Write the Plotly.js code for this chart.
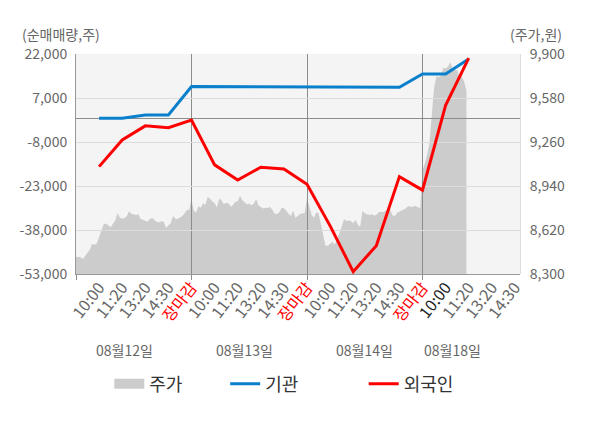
<!DOCTYPE html>
<html>
<head>
<meta charset="utf-8">
<script src="https://cdn.plot.ly/plotly-3.0.1.min.js"></script>
<style>
  html, body { margin: 0; padding: 0; background: #fff; }
  #chart { width: 600px; height: 428px; }
</style>
</head>
<body>
<div id="chart"></div>
<script>
// 거래일, 시간 구간 라벨
var dayLabels = ['08월12일', '08월13일', '08월14일', '08월18일'];
var slotLabels = ['10:00', '11:20', '13:20', '14:30', '장마감'];
var liveDaySlots = 4; // 마지막 날은 장중 (14:30 까지만 눈금)

// 주가 (원), 하루 50개 샘플
var priceDay1 = [8426, 8424, 8421, 8409, 8430, 8450, 8478, 8520, 8512, 8521,
                 8563, 8612, 8661, 8668, 8651, 8640, 8665, 8689, 8744, 8710,
                 8701, 8707, 8720, 8757, 8739, 8733, 8729, 8735, 8700, 8695,
                 8685, 8680, 8700, 8708, 8692, 8678, 8676, 8684, 8680, 8635,
                 8654, 8670, 8722, 8702, 8700, 8712, 8721, 8740, 8765, 8768];
var priceDay2 = [8845, 8760, 8748, 8793, 8782, 8814, 8802, 8860, 8850, 8830,
                 8815, 8785, 8850, 8835, 8809, 8816, 8815, 8790, 8803, 8826,
                 8830, 8870, 8836, 8822, 8805, 8812, 8800, 8813, 8843, 8798,
                 8790, 8777, 8781, 8780, 8788, 8768, 8739, 8736, 8750, 8782,
                 8778, 8762, 8738, 8721, 8760, 8710, 8722, 8737, 8741, 8741];
var priceDay3 = [8855, 8800, 8730, 8710, 8750, 8741, 8660, 8580, 8508, 8505,
                 8523, 8535, 8513, 8550, 8595, 8644, 8700, 8685, 8690, 8685,
                 8669, 8695, 8660, 8642, 8760, 8741, 8735, 8730, 8734, 8726,
                 8730, 8750, 8752, 8751, 8760, 8768, 8770, 8728, 8720, 8745,
                 8756, 8762, 8770, 8780, 8795, 8788, 8792, 8794, 8786, 8778];
var priceDay4 = [9058, 9100, 9166, 9250, 9455, 9652, 9736, 9732, 9740, 9800,
                 9795, 9808, 9840, 9798, 9786, 9782, 9730, 9734, 9700, 9635];
var samplesPerDay = 50;

// 순매매량 (주), 눈금 시점마다
var institution = [100, 100, 1200, 1200, 10900, 10900, 10900, 10850, 10850,
                   10650, 10650, 10650, 10650, 10650, 15200, 15200, 20300];
var foreigner = [-16400, -7300, -2500, -3100, -500, -15800, -20950, -16600, -17200,
                 -22400, -36600, -52200, -43350, -19800, -24400, 4500, 20600];

var netTicks = [22000, 7000, -8000, -23000, -38000, -53000];
var priceTicks = [9900, 9580, 9260, 8940, 8620, 8300];

var slotsPerDay = slotLabels.length;
var font = 'Noto Sans CJK KR, Noto Sans, sans-serif';

// x 좌표: 하루 = 5칸
var priceX = [], priceY = [];
[priceDay1, priceDay2, priceDay3, priceDay4].forEach(function (arr, d) {
    arr.forEach(function (v, i) {
        priceX.push(d * slotsPerDay + i * slotsPerDay / samplesPerDay);
        priceY.push(v);
    });
});

var tickVals = [], tickText = [];
dayLabels.forEach(function (day, d) {
    var n = d === dayLabels.length - 1 ? liveDaySlots : slotsPerDay;
    for (var s = 0; s < n; s++) {
        var t = slotLabels[s];
        if (t === '장마감') t = '<span style="color:#ff0000">' + t + '</span>';
        else if (d === dayLabels.length - 1 && s === 0) t = '<span style="color:#222">' + t + '</span>';
        tickVals.push(d * slotsPerDay + s + 1);
        tickText.push(t);
    }
});

var lineX = institution.map(function (v, i) { return i + 1; });
var fmt = function (v) { return v.toLocaleString('en-US'); };

var data = [
    {
        type: 'scatter', mode: 'lines', x: priceX, y: priceY,
        xaxis: 'x', yaxis: 'y',
        fill: 'tozeroy', fillcolor: '#cccccc',
        line: { width: 0, color: '#cccccc' },
        showlegend: false, hoverinfo: 'skip'
    },
    {
        type: 'scatter', mode: 'lines', x: [null], y: [null],
        xaxis: 'x', yaxis: 'y', name: '주가',
        line: { width: 14, color: '#cccccc' }, legend: 'legend'
    },
    {
        type: 'scatter', mode: 'lines', x: lineX, y: institution,
        xaxis: 'x2', yaxis: 'y2', name: '기관',
        line: { width: 3, color: '#0a80cc' }, legend: 'legend2'
    },
    {
        type: 'scatter', mode: 'lines', x: lineX, y: foreigner,
        xaxis: 'x2', yaxis: 'y2', name: '외국인',
        line: { width: 3, color: '#ff0000' }, legend: 'legend3'
    }
];

var xRange = [0, 19.22];
var legendBase = {
    orientation: 'h', yanchor: 'middle', xanchor: 'left', y: -0.5,
    font: { family: font, size: 18, color: '#333' }, bgcolor: 'rgba(0,0,0,0)'
};

var layout = {
    width: 600, height: 428,
    margin: { l: 76, r: 80, t: 54, b: 154 },
    paper_bgcolor: '#ffffff',
    plot_bgcolor: 'rgba(0,0,0,0)',
    font: { family: font, size: 14, color: '#666' },
    xaxis: {
        domain: [0, 1], anchor: 'y', range: xRange, fixedrange: true,
        tickvals: tickVals, ticktext: tickText, tickangle: -52,
        tickfont: { size: 16, color: '#666' },
        showgrid: false, zeroline: false, showline: false, ticks: ''
    },
    yaxis: {
        domain: [0, 1], anchor: 'x', side: 'right', range: [8300, 9900], fixedrange: true,
        tickvals: priceTicks, ticktext: priceTicks.map(fmt),
        showgrid: false, zeroline: false, showline: true, linecolor: '#dddddd',
        ticks: '', ticklabelstandoff: 6
    },
    xaxis2: {
        domain: [0, 1], anchor: 'y2', range: xRange, fixedrange: true,
        tickvals: [0, 5, 10, 15], showticklabels: false,
        showgrid: true, gridcolor: '#8c8c8c', gridwidth: 1,
        ticks: 'outside', ticklen: 5, tickcolor: '#8c8c8c',
        showline: true, linecolor: '#999999', zeroline: false
    },
    yaxis2: {
        domain: [0, 1], anchor: 'x2', side: 'left', range: [-53000, 22000], fixedrange: true,
        tickvals: netTicks, ticktext: netTicks.map(fmt),
        showgrid: true, gridcolor: '#dcdcdc',
        zeroline: true, zerolinecolor: '#8c8c8c', zerolinewidth: 1,
        showline: true, linecolor: '#999999', ticks: '', ticklabelstandoff: 5
    },
    shapes: [{
        type: 'rect', xref: 'paper', yref: 'paper', x0: 0, x1: 1, y0: 0, y1: 1,
        fillcolor: '#f4f4f4', line: { width: 0 }, layer: 'below'
    }],
    annotations: [
        { xref: 'paper', yref: 'paper', x: -0.034, y: 1.091, xanchor: 'center', yanchor: 'middle',
          text: '(순매매량,주)', showarrow: false, font: { size: 14, color: '#666' } },
        { xref: 'paper', yref: 'paper', x: 1.035, y: 1.091, xanchor: 'center', yanchor: 'middle',
          text: '(주가,원)', showarrow: false, font: { size: 14, color: '#666' } }
    ],
    legend: Object.assign({}, legendBase, { x: 0.075 }),
    legend2: Object.assign({}, legendBase, { x: 0.336 }),
    legend3: Object.assign({}, legendBase, { x: 0.648 }),
    showlegend: true
};

var dayLabelX = [2.1, 7.3, 12.5, 16.3];
dayLabels.forEach(function (d, i) {
    layout.annotations.push({
        xref: 'x', yref: 'paper', x: dayLabelX[i], y: -0.345, yanchor: 'middle',
        text: d, showarrow: false, font: { size: 14, color: '#666' }
    });
});

Plotly.newPlot('chart', data, layout, { displayModeBar: false, staticPlot: true });
</script>
</body>
</html>
